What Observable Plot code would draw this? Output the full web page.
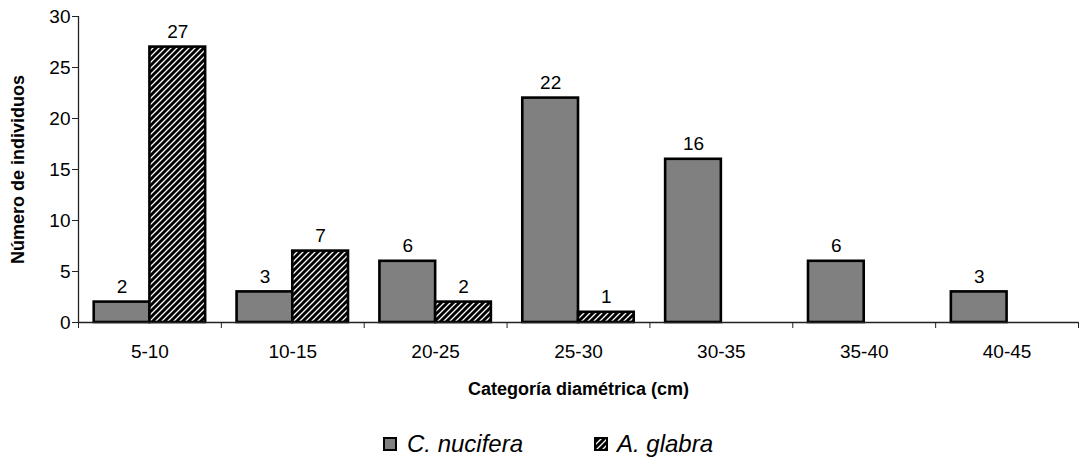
<!DOCTYPE html>
<html>
<head>
<meta charset="utf-8">
<script src="https://cdn.jsdelivr.net/npm/d3@7"></script>
<script src="https://cdn.jsdelivr.net/npm/@observablehq/plot@0.6"></script>
<style>
  body { margin: 0; background: #fff; font-family: "Liberation Sans", Arial, sans-serif; }
  #legend { position: relative; height: 66px; width: 1081px; font-style: italic; font-size: 24px; color: #000; }
  .item { position: absolute; top: 30px; display: flex; align-items: center; }
</style>
</head>
<body>
<div id="chart"></div>
<div id="legend">
  <div class="item" style="left:383px"><svg width="14" height="14"><rect x="1" y="1" width="12" height="12" fill="#808080" stroke="#000" stroke-width="2"/></svg><span style="margin-left:10px">C. nucifera</span></div>
  <div class="item" style="left:594px"><svg width="14" height="14"><defs><pattern id="hatchL" patternUnits="userSpaceOnUse" width="6" height="6"><rect width="6" height="6" fill="#fff"/><path d="M-1,1 l2,-2 M0,6 l6,-6 M5,7 l2,-2" stroke="#000" stroke-width="3"/></pattern></defs><rect x="1" y="1" width="12" height="12" fill="url(#hatchL)" stroke="#000" stroke-width="2"/></svg><span style="margin-left:9px">A. glabra</span></div>
</div>
<script>
const categories = ["5-10", "10-15", "20-25", "25-30", "30-35", "35-40", "40-45"];
const nucifera = [2, 3, 6, 22, 16, 6, 3];
const glabra = [27, 7, 2, 1, null, null, null];
const yTicks = [0, 5, 10, 15, 20, 25, 30];

// group layout inside each category band (fractions of the band)
const groupPad = 0.11;
const rowsC = categories.map((c, i) => ({cat: c, i, v: nucifera[i], x1: i + groupPad, x2: i + 0.5}));
const rowsA = categories.map((c, i) => ({cat: c, i, v: glabra[i], x1: i + 0.5, x2: i + 1 - groupPad}))
  .filter(d => d.v != null);

const defs = () => {
  const g = d3.create("svg:defs");
  const p = g.append("pattern").attr("id", "hatch").attr("patternUnits", "userSpaceOnUse")
    .attr("width", 6).attr("height", 6);
  p.append("rect").attr("width", 6).attr("height", 6).attr("fill", "#fff");
  p.append("path").attr("d", "M-1,1 l2,-2 M0,6 l6,-6 M5,7 l2,-2")
    .attr("stroke", "#000").attr("stroke-width", 3);
  return g.node();
};

const font = 19;
const chart = Plot.plot({
  width: 1081,
  height: 400,
  marginLeft: 78,
  marginRight: 3,
  marginTop: 16,
  marginBottom: 78,
  style: {fontFamily: "'Liberation Sans', Arial, sans-serif", color: "#000", background: "#fff"},
  x: {type: "linear", domain: [0, categories.length], axis: null},
  y: {domain: [0, 30], axis: null},
  marks: [
    defs,
    Plot.rectY(rowsC, {x1: "x1", x2: "x2", y: "v", fill: "#808080", stroke: "#000", strokeWidth: 2.6}),
    Plot.rectY(rowsA, {x1: "x1", x2: "x2", y: "v", fill: "url(#hatch)", stroke: "#000", strokeWidth: 2.6}),
    Plot.text(rowsC, {x: d => (d.x1 + d.x2) / 2, y: "v", text: d => String(d.v), dy: -15, fontSize: font}),
    Plot.text(rowsA, {x: d => (d.x1 + d.x2) / 2, y: "v", text: d => String(d.v), dy: -15, fontSize: font}),
    Plot.ruleX([0], {stroke: "#222", strokeWidth: 1.3}),
    Plot.ruleY([0], {stroke: "#222", strokeWidth: 1.3}),
    Plot.axisY(yTicks, {tickSize: 6, tickPadding: 2, fontSize: font, label: null, stroke: "#222"}),
    Plot.axisX(d3.range(categories.length + 1), {tickSize: 6, tickFormat: () => "", label: null, stroke: "#222"}),
    Plot.axisX(categories.map((c, i) => i + 0.5), {tickSize: 0, tickPadding: 22, fontSize: font, tickFormat: v => categories[Math.floor(v)], label: null}),
    Plot.text(["Número de individuos"], {frameAnchor: "left", textAnchor: "middle", dx: -60, rotate: -90, fontWeight: "bold", fontSize: 18}),
    Plot.text(["Categoría diamétrica (cm)"], {frameAnchor: "bottom", dy: 72, fontWeight: "bold", fontSize: 18})
  ]
});
document.getElementById("chart").appendChild(chart);
</script>
</body>
</html>
